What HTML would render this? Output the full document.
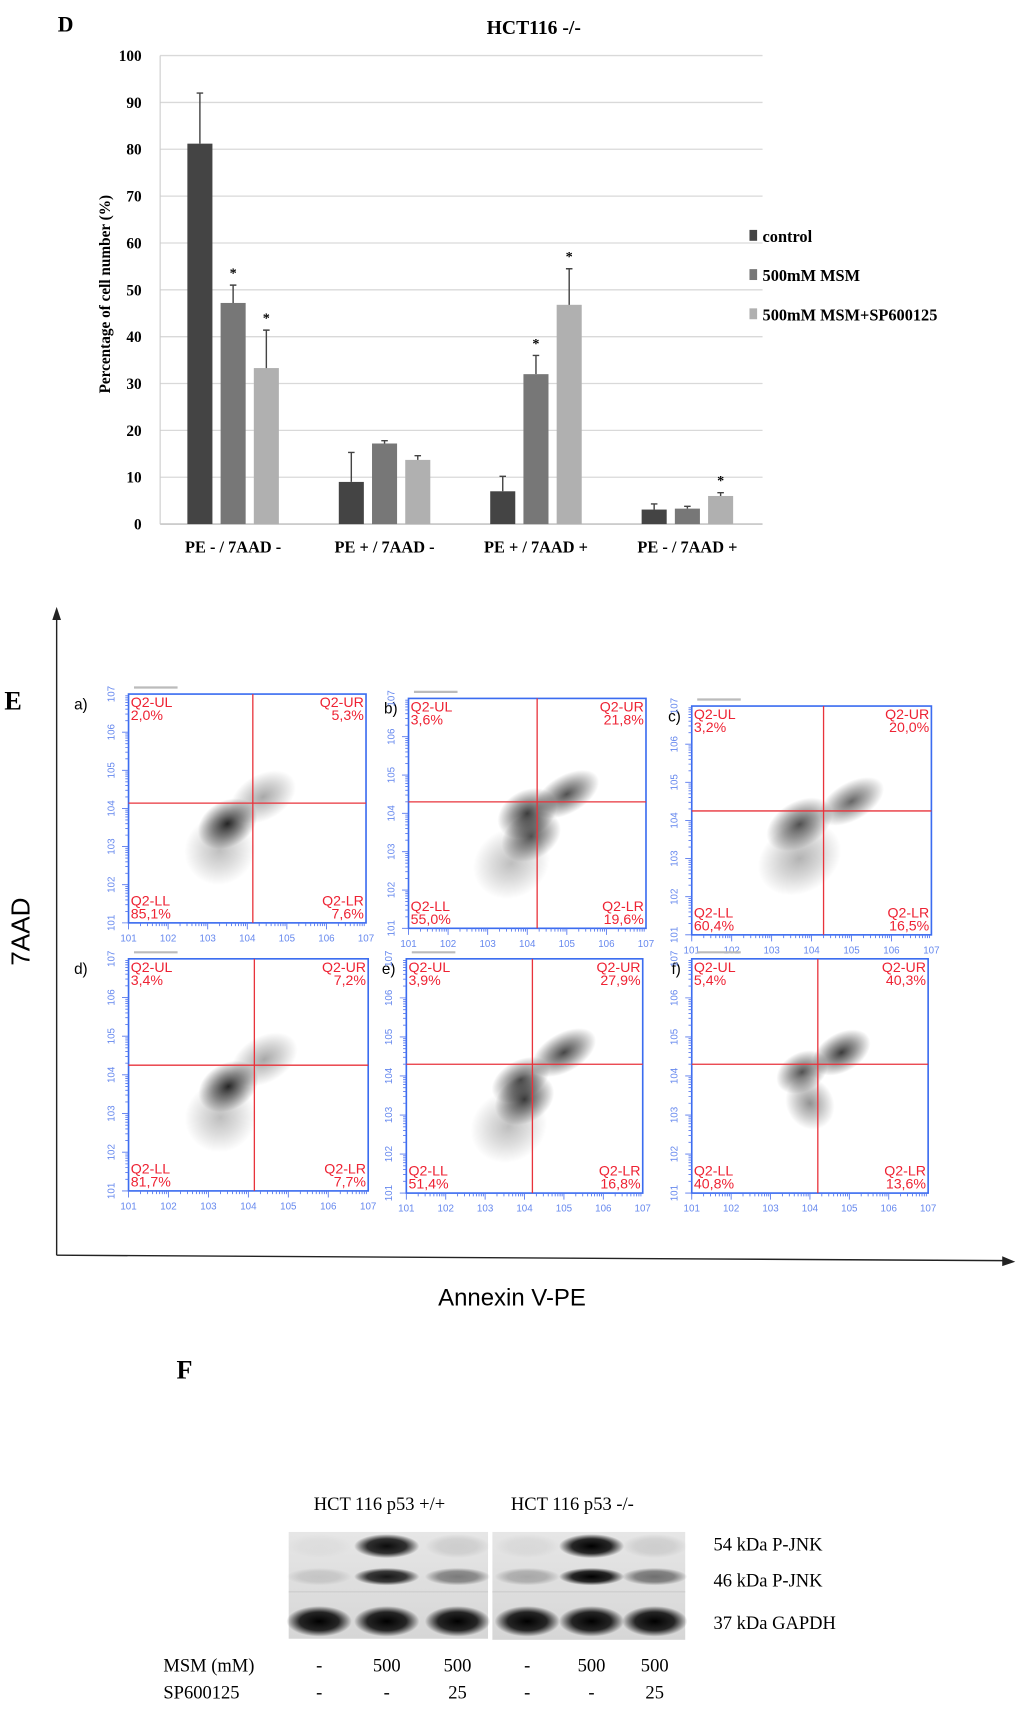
<!DOCTYPE html>
<html><head><meta charset="utf-8"><style>
html,body{margin:0;padding:0;background:#fff;width:1024px;height:1715px;overflow:hidden}
svg{display:block}
.serif{font-family:"Liberation Serif",serif}
.sans{font-family:"Liberation Sans",sans-serif}
</style></head><body>
<svg id="fig" width="1024" height="1715" viewBox="0 0 940 1574" preserveAspectRatio="none" xmlns="http://www.w3.org/2000/svg">
<defs>
<radialGradient id="blob"><stop offset="0" stop-color="#000" stop-opacity="0.85"/><stop offset="0.5" stop-color="#000" stop-opacity="0.45"/><stop offset="1" stop-color="#000" stop-opacity="0"/></radialGradient>
<radialGradient id="band"><stop offset="0" stop-color="#000" stop-opacity="1"/><stop offset="0.6" stop-color="#111" stop-opacity="0.9"/><stop offset="1" stop-color="#000" stop-opacity="0"/></radialGradient>
<linearGradient id="blotbg" x1="0" y1="0" x2="0" y2="1"><stop offset="0" stop-color="#e6e6e6"/><stop offset="1" stop-color="#d6d6d6"/></linearGradient>
</defs>
<g id="panelD">
<text x="53" y="29" class="serif" font-size="20" font-weight="bold">D</text>
<text x="490" y="31" class="serif" font-size="18" font-weight="bold" text-anchor="middle">HCT116 -/-</text>
<text transform="translate(101,270) rotate(-90)" class="serif" font-size="14" font-weight="bold" text-anchor="middle">Percentage of cell number  (%)</text>
<g id="gridD"></g><g id="barsD"></g>
<g>
<rect x="688" y="211" width="7" height="10" fill="#444"/>
<text x="700" y="222" class="serif" font-size="15" font-weight="bold">control</text>
<rect x="688" y="247" width="7" height="10" fill="#777"/>
<text x="700" y="258" class="serif" font-size="15" font-weight="bold">500mM MSM</text>
<rect x="688" y="283" width="7" height="10" fill="#b0b0b0"/>
<text x="700" y="294" class="serif" font-size="15" font-weight="bold">500mM MSM+SP600125</text>
</g>
</g>
<g id="panelE">
<text x="4" y="651" class="serif" font-size="24" font-weight="bold">E</text>
<line x1="52" y1="1152" x2="52" y2="566" stroke="#222" stroke-width="1.3"/>
<polygon points="52,557 48,569 56,569" fill="#222"/>
<line x1="52" y1="1152" x2="922" y2="1157" stroke="#222" stroke-width="1.3"/>
<polygon points="932,1158 920,1153 920,1162" fill="#222"/>
<text transform="translate(27,855) rotate(-90)" class="sans" font-size="24" text-anchor="middle">7AAD</text>
<text x="470" y="1198" class="sans" font-size="22" text-anchor="middle">Annexin V-PE</text>
<g id="flows"></g>
</g>
<g id="panelF">
<text x="162" y="1265" class="serif" font-size="24" font-weight="bold">F</text>
<text x="288" y="1386" class="serif" font-size="17">HCT 116 p53 +/+</text>
<text x="469" y="1386" class="serif" font-size="17">HCT 116 p53 -/-</text>
<rect x="265" y="1406" width="183" height="98" fill="url(#blotbg)"/>
<rect x="452" y="1406" width="177" height="99" fill="url(#blotbg)"/>
<line x1="265" y1="1461" x2="448" y2="1461" stroke="#c8c8c8" stroke-width="1"/>
<line x1="452" y1="1461" x2="629" y2="1461" stroke="#c8c8c8" stroke-width="1"/>
<g id="bands"></g>
<text x="655" y="1423" class="serif" font-size="17">54 kDa P-JNK</text>
<text x="655" y="1456" class="serif" font-size="17">46 kDa P-JNK</text>
<text x="655" y="1495" class="serif" font-size="17">37 kDa GAPDH</text>
<text x="150" y="1534" class="serif" font-size="17">MSM (mM)</text>
<text x="150" y="1559" class="serif" font-size="17">SP600125</text>
<g id="lanes"></g>
</g>
</svg>
<script>
const NS='http://www.w3.org/2000/svg';
function mk(tag,attrs,parent){const e=document.createElementNS(NS,tag);for(const k in attrs)e.setAttribute(k,attrs[k]);parent.appendChild(e);return e;}

const categories=['PE - / 7AAD -','PE + / 7AAD -','PE + / 7AAD +','PE - / 7AAD +'];
const controlVals=[81.2,9.0,7.0,3.1];
const controlErr=[10.8,6.3,3.2,1.2];
const msmVals=[47.2,17.2,32.0,3.3];
const msmErr=[3.8,0.6,4.0,0.5];
const spVals=[33.3,13.7,46.8,6.0];
const spErr=[8.1,0.9,7.7,0.7];
const msmStar=[true,false,true,false];
const spStar=[true,false,true,true];
const yTicks=[0,10,20,30,40,50,60,70,80,90,100];

const yS=v=>481-v*4.3;
const xS=(g,s)=>172+g*139+s*30.5;
const grid=document.getElementById('gridD');
yTicks.forEach(t=>{
  const l=mk('line',{x1:147,x2:700,y1:yS(t),y2:yS(t),stroke:t===0?'#bbb':'#d9d9d9','stroke-width':1.2},grid);
  
  
  const tx=mk('text',{x:130,y:yS(t)+5,'text-anchor':'end','font-size':14,'font-weight':'bold','class':'serif'},grid);
  tx.textContent=t;
  
  
});
mk('line',{x1:147,x2:147,y1:yS(100),y2:yS(0),stroke:'#ccc','stroke-width':1},grid);
const bars=document.getElementById('barsD');
const series=[[controlVals,controlErr,'#444',null,'control'],[msmVals,msmErr,'#777',msmStar,'msm'],[spVals,spErr,'#b0b0b0',spStar,'msm-sp']];
categories.forEach((c,g)=>{
  series.forEach((s,si)=>{
    const v=s[0][g],e=s[1][g],x=xS(g,si),w=23;
    const r=mk('rect',{x:x,y:yS(v),width:w,height:yS(0)-yS(v),fill:s[2]},bars);
    
    
    const cx=x+w/2;
    const eb=mk('path',{d:`M${cx} ${yS(v)}V${yS(v+e)}M${cx-3} ${yS(v+e)}H${cx+3}`,stroke:'#444','stroke-width':1.3,fill:'none'},bars);
    
    
    if(s[3]&&s[3][g]){
      const st=mk('text',{x:cx,y:yS(v+e)-7,'text-anchor':'middle','font-size':13,'font-weight':'bold','class':'serif'},bars);
      st.textContent='*';
      
      
    }
  });
  const lb=mk('text',{x:xS(g,1)+11.5,y:507,'text-anchor':'middle','font-size':15,'font-weight':'bold','class':'serif'},bars);
  lb.textContent=c;
  
  
});

const panelLetters=['a)','b)','c)','d)','e)','f)'];
const ulPct=['2,0%','3,6%','3,2%','3,4%','3,9%','5,4%'];
const urPct=['5,3%','21,8%','20,0%','7,2%','27,9%','40,3%'];
const llPct=['85,1%','55,0%','60,4%','81,7%','51,4%','40,8%'];
const lrPct=['7,6%','19,6%','16,5%','7,7%','16,8%','13,6%'];
const gateX=[4.14,4.25,4.3,4.15,4.2,4.2];
const gateY=[4.14,4.3,4.25,4.25,4.3,4.3];
const clusters=[
 [[3.5,3.6,0.8,0.6,1],[4.4,4.3,0.9,0.6,0.4],[3.3,2.9,0.9,0.9,0.3]],
 [[4.0,4.0,0.8,0.6,0.9],[4.1,3.4,0.8,0.6,0.8],[5.0,4.5,0.9,0.5,0.8],[3.6,2.7,1.0,0.9,0.3]],
 [[3.7,3.9,0.9,0.6,0.8],[5.0,4.5,0.9,0.5,0.7],[3.7,3.0,1.1,0.9,0.35]],
 [[3.5,3.7,0.8,0.6,1],[4.4,4.4,0.9,0.6,0.4],[3.3,2.9,0.9,0.9,0.3]],
 [[3.9,3.9,0.8,0.5,0.8],[4.0,3.4,0.8,0.6,0.9],[5.0,4.6,0.9,0.5,0.85],[3.6,2.7,1.0,0.9,0.3]],
 [[3.8,4.1,0.7,0.5,0.8],[4.8,4.6,0.8,0.5,0.9],[4.0,3.3,0.6,0.7,0.5]]
];
const boxes=[[118,637,218,210],[375,641,218,211],[635,648,220,210],[118,880,220,213],[373,880,217,215],[635,880,217,215]];
const flows=document.getElementById('flows');
boxes.forEach((b,i)=>{
  const [bx,by,bw,bh]=b;
  const g=mk('g',{},flows);
  
  
  const lx=v=>bx+(v-1)/6*bw, ly=v=>by+bh-(v-1)/6*bh;
  const lt=mk('text',{x:(i%3===0?bx-50:bx-10),y:by+14,'font-size':14,'class':'sans','text-anchor':(i%3===0?'start':'end')},g);lt.textContent=panelLetters[i];
  
  
  mk('line',{x1:bx+5,x2:bx+45,y1:by-6,y2:by-6,stroke:'#bbb','stroke-width':2},g);
  clusters[i].forEach(c=>{
    const el=mk('ellipse',{cx:lx(c[0]),cy:ly(c[1]),rx:c[2]/6*bw,ry:c[3]/6*bh,fill:'url(#blob)',opacity:c[4],transform:`rotate(-30 ${lx(c[0])} ${ly(c[1])})`},g);
    
    
  });
  const fr=mk('rect',{x:bx,y:by,width:bw,height:bh,fill:'none',stroke:'#3b6cf0','stroke-width':1.5},g);
  
  
  mk('line',{x1:lx(gateX[i]),x2:lx(gateX[i]),y1:by,y2:by+bh,stroke:'#e8333b','stroke-width':1.2},g);
  mk('line',{x1:bx,x2:bx+bw,y1:ly(gateY[i]),y2:ly(gateY[i]),stroke:'#e8333b','stroke-width':1.2},g);
  let d='';
  for(let k=1;k<7;k++){for(let m=1;m<10;m++){const v=k+Math.log10(m);const L=m===1?6:3;d+=`M${lx(v)} ${by+bh}v${L}M${bx} ${ly(v)}h${-L}`;}}
  mk('path',{d:d,stroke:'#5577ee','stroke-width':0.8,fill:'none'},g);
  for(let k=1;k<=7;k++){
    const t1=mk('text',{x:lx(k),y:by+bh+17,'font-size':9,fill:'#6688ee','class':'sans','text-anchor':'middle'},g);t1.textContent='10'+k;
    const t2=mk('text',{transform:`translate(${bx-13},${ly(k)}) rotate(-90)`,'font-size':9,fill:'#6688ee','class':'sans','text-anchor':'middle'},g);t2.textContent='10'+k;
  }
  const q=[['Q2-UL',ulPct[i],bx+2,by+12,'start'],['Q2-UR',urPct[i],bx+bw-2,by+12,'end'],['Q2-LL',llPct[i],bx+2,by+bh-16,'start'],['Q2-LR',lrPct[i],bx+bw-2,by+bh-16,'end']];
  q.forEach(a=>{
    const t=mk('text',{x:a[2],y:a[3],'font-size':13,fill:'#ee2233','class':'sans','text-anchor':a[4]},g);t.textContent=a[0];
    
    
    const p=mk('text',{x:a[2],y:a[3]+12,'font-size':13,fill:'#ee2233','class':'sans','text-anchor':a[4]},g);p.textContent=a[1];
    
    
  });
});

const laneX=[293,355,420,484,543,601];
const msmDose=['-','500','500','-','500','500'];
const spDose=['-','-','25','-','-','25'];
const jnk54=[0.03,0.95,0.1,0.05,1.0,0.1];
const jnk46=[0.12,0.9,0.45,0.25,1.0,0.5];
const gapdh=[1,1,1,1,1,1];
const bandsG=document.getElementById('bands');
laneX.forEach((x,i)=>{
  [[1419,jnk54[i],11],[1447,jnk46[i],8],[1488,gapdh[i],14]].forEach((r,j)=>{
    const e=mk('ellipse',{cx:x,cy:r[0],rx:30,ry:r[2],fill:'url(#band)',opacity:r[1]},bandsG);
    
    
  });
});
const lanes=document.getElementById('lanes');
laneX.forEach((x,i)=>{
  const a=mk('text',{x:x,y:1534,'font-size':17,'class':'serif','text-anchor':'middle'},lanes);a.textContent=msmDose[i];
  
  
  const b=mk('text',{x:x,y:1559,'font-size':17,'class':'serif','text-anchor':'middle'},lanes);b.textContent=spDose[i];
  
  
});
</script>
</body></html>
